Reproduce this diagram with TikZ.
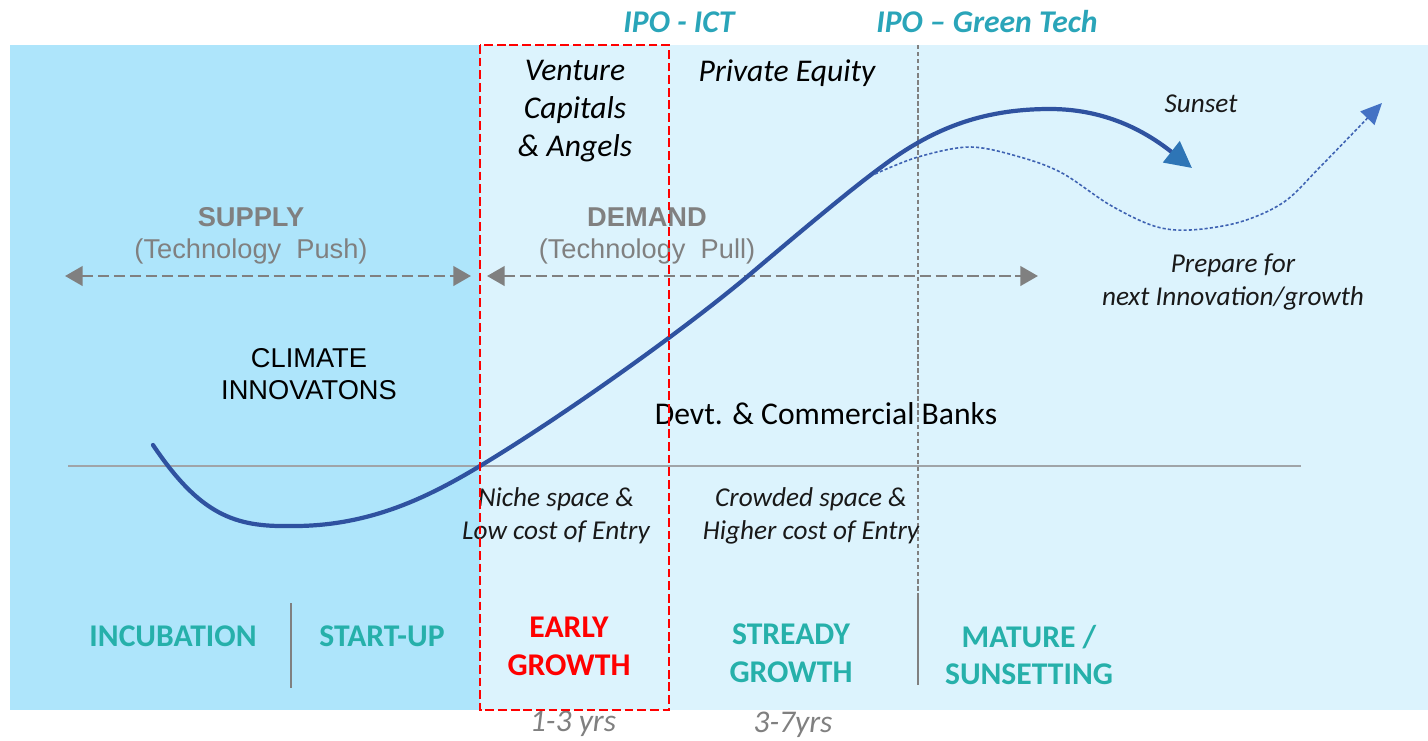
\documentclass[tikz,border=0pt]{standalone}
\usepackage{fontspec}
\setmainfont{Carlito}
\newfontfamily\arialfont{Liberation Sans}
\usetikzlibrary{calc, arrows.meta}

\definecolor{skydark}{RGB}{174,229,251}
\definecolor{skylight}{RGB}{220,243,253}
\definecolor{stageteal}{RGB}{38,176,170}
\definecolor{ipoteal}{RGB}{42,165,185}
\definecolor{curveblue}{RGB}{47,82,160}
\definecolor{tipblue}{RGB}{46,117,182}
\definecolor{dotblue}{RGB}{62,98,178}
\definecolor{dottip}{RGB}{68,114,196}
\definecolor{pushgray}{RGB}{128,128,128}
\definecolor{axisgray}{RGB}{160,164,168}

\tikzset{
  ipo/.style={font=\fontsize{18}{21.6}\selectfont\bfseries\itshape, text=ipoteal},
  fund/.style={font=\fontsize{18}{21.6}\selectfont\itshape, align=center},
  note/.style={font=\fontsize{15.5}{19}\selectfont\itshape, align=center, text=black!90},
  pushtext/.style={font=\arialfont\fontsize{15.5}{18.5}\selectfont, text=pushgray, align=center},
  stage/.style={font=\fontsize{18}{21.6}\selectfont\bfseries, text=stageteal, align=center},
  years/.style={font=\fontsize{18}{21.6}\selectfont\itshape, text=pushgray, inner sep=1pt},
  pusharrow/.style={pushgray, line width=1.7pt, dash pattern=on 6.5pt off 2.6pt,
    {Triangle[length=10pt,width=11pt]}-{Triangle[length=10pt,width=11pt]}},
  stagebar/.style={pushgray, line width=1.1pt},
}

\begin{document}
\begin{tikzpicture}[x=0.02cm, y=-0.02cm]
    \useasboundingbox (0,0) rectangle (1428,741);
    %背景の領域
    \coordinate (TL) at (10,45);
    \coordinate (BR) at (1428,710);
    \coordinate (eL) at (480,45);
    \coordinate (eR) at (669,710);
    \fill[skylight] (TL) rectangle (BR);
    \fill[skydark] (TL) rectangle (eL |- BR);
    %横軸
    \coordinate (axL) at (68,466);
    \coordinate (axR) at (1301,466);
    \draw[axisgray, line width=1.1pt] (axL)--(axR);
    %IPO の区切り線
    \coordinate (gT) at (918,45);
    \coordinate (gM) at (918,598);
    \coordinate (gB) at (918,685);
    \draw[pushgray, line width=0.7pt, dash pattern=on 2.5pt off 1.5pt] (gT)--(gM);
    \draw[stagebar] (gM)--(gB);
    \coordinate (sT) at (291,603);
    \coordinate (sB) at (291,688);
    \draw[stagebar] (sT)--(sB);
    %供給と需要の矢印
    \coordinate (supL) at (65,276);
    \coordinate (supR) at (471,276);
    \coordinate (demL) at (487,276);
    \coordinate (demR) at (1038,276);
    \draw[pusharrow] (supL)--(supR);
    \draw[pusharrow] (demL)--(demR);
    %成長曲線
    \coordinate (k0) at (153,445);
    \coordinate (k1) at (290,526);
    \coordinate (k2) at (480,466);
    \coordinate (k3) at (748,276);
    \coordinate (k4) at (880,168);
    \coordinate (k5) at (1050,109);
    \coordinate (k6) at (1192,168);
    \draw[curveblue, line width=2.4pt, line cap=round,
      -{Triangle[length=15pt,width=15pt,color=tipblue]}]
      (k0) .. controls (200,515) and (235,527) .. (k1)
           .. controls (370,527) and (430,496) .. (k2)
           .. controls (560,418) and (680,333) .. (k3)
           .. controls (800,232) and (850,190) .. (k4)
           .. controls (930,130) and (980,109) .. (k5)
           .. controls (1110,109) and (1150,135) .. (k6);
    \draw[dotblue, line width=0.9pt, dash pattern=on 1.8pt off 1.2pt,
      -{Triangle[length=12pt,width=11pt,color=dottip,fill=dottip]}]
      plot[smooth, tension=0.55] coordinates {(875,174) (918,157) (970,147) (1020,157)
        (1062,173) (1110,205) (1154,226) (1190,230) (1240,222) (1284,202)
        (1321,166) (1382,103)};
    %テキスト
    \node[ipo] (ipoict) at (679,22) {IPO - ICT};
    \node[ipo] (ipogreen) at (987,22) {IPO – Green Tech};
    \node[fund] (vc) at (575,111) {Venture\\Capitals\\\& Angels};
    \node[fund] (pe) at (787,73) {Private Equity};
    \node[note] (sunset) at (1201,104) {Sunset};
    \node[pushtext] (supply) at (251,236) {\textbf{SUPPLY}\\(Technology\ \ Push)};
    \node[pushtext] (demand) at (647,236) {\textbf{DEMAND}\\(Technology\ \ Pull)};
    \node[note] (prepare) at (1233,282) {Prepare for\\next Innovation/growth};
    \node[pushtext, text=black] (climate) at (309,374) {CLIMATE\\INNOVATONS};
    \node[fund, font=\fontsize{18}{21.6}\selectfont] (banks) at (826,414) {Devt. \& Commercial Banks};
    \node[note] (niche) at (556,516) {Niche space \&\\Low cost of Entry};
    \node[note] (crowded) at (811,516) {Crowded space \&\\Higher cost of Entry};
    %段階
    \node[stage] (incub) at (173,636) {INCUBATION};
    \node[stage] (startup) at (382,636) {START-UP};
    \node[stage, text=red] (early) at (569,646) {EARLY\\GROWTH};
    \node[stage] (steady) at (791,653) {STREADY\\GROWTH};
    \node[stage] (mature) at (1029,655) {MATURE /\\SUNSETTING};
    \node[years] (yrsA) at (573,724) {1-3 yrs};
    \node[years] (yrsB) at (793,725) {3-7yrs};
    %アーリーステージの枠
    \draw[red, line width=1.6pt, dash pattern=on 5pt off 2.2pt] (eL) rectangle (eR);
\end{tikzpicture}
\end{document}
